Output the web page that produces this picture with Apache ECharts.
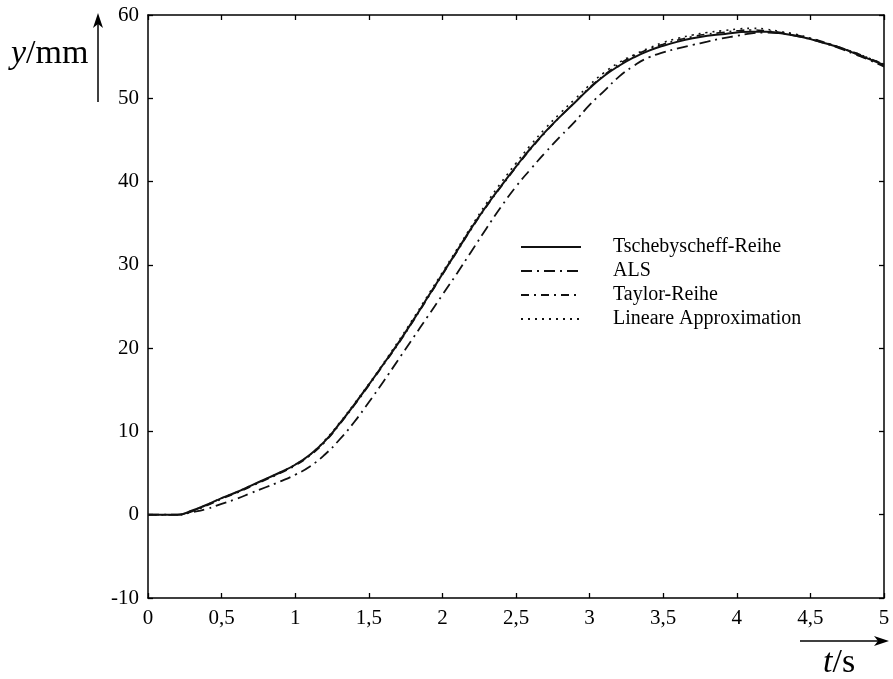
<!DOCTYPE html>
<html>
<head>
<meta charset="utf-8">
<script src="https://cdn.jsdelivr.net/npm/echarts@6/dist/echarts.min.js"></script>
<style>html,body{margin:0;padding:0;background:#fff}#c{width:893px;height:679px}</style>
</head>
<body>
<div id="c"></div>
<script>
const tValues = [0,0.1,0.2,0.3,0.4,0.5,0.6,0.7,0.8,0.9,1.0,1.1,1.2,1.3,1.4,1.5,1.6,1.7,1.8,1.9,2.0,2.1,2.2,2.3,2.4,2.5,2.6,2.7,2.8,2.9,3.0,3.1,3.2,3.3,3.4,3.5,3.6,3.7,3.8,3.9,4.0,4.1,4.2,4.3,4.4,4.5,4.6,4.7,4.8,4.9,5.0];
const tschebyscheff = [0,0,0,0.5,1.2,2.0,2.7,3.5,4.3,5.1,6.0,7.2,8.8,10.9,13.2,15.6,18.1,20.6,23.3,26.1,28.9,31.7,34.5,37.1,39.5,41.8,44.0,46.0,47.8,49.5,51.2,52.7,53.9,54.9,55.7,56.3,56.8,57.2,57.5,57.7,57.9,58.0,58.0,57.8,57.5,57.1,56.6,56.1,55.4,54.7,54.0];
const als = [0,0,0,0.3,0.7,1.3,1.9,2.6,3.3,4.0,4.8,5.8,7.2,9.0,11.1,13.5,16.0,18.6,21.2,23.8,26.4,29.0,31.7,34.4,37.0,39.4,41.5,43.5,45.4,47.2,49.2,50.9,52.6,53.9,54.9,55.5,56.0,56.4,56.8,57.2,57.5,57.8,57.9,57.8,57.5,57.1,56.6,56.0,55.3,54.6,53.8];
const taylor = [0,0,0,0.4,1.1,1.9,2.6,3.4,4.2,5.0,5.9,7.1,8.7,10.8,13.1,15.5,18.0,20.5,23.2,26.0,28.8,31.6,34.4,37.0,39.4,41.7,43.9,45.9,47.8,49.5,51.3,52.8,54.1,55.1,55.9,56.5,57.0,57.4,57.7,57.9,58.1,58.2,58.1,57.9,57.6,57.2,56.7,56.1,55.5,54.8,54.1];
const lineare = [0,0,0,0.5,1.2,2.0,2.7,3.5,4.3,5.1,6.0,7.2,8.9,11.0,13.3,15.7,18.2,20.8,23.5,26.3,29.1,31.9,34.7,37.4,39.9,42.2,44.4,46.4,48.2,49.9,51.6,53.1,54.3,55.2,56.0,56.7,57.2,57.6,57.9,58.1,58.3,58.4,58.3,58.0,57.7,57.2,56.7,56.1,55.5,54.8,54.1];
const seriesNames = ['Tschebyscheff-Reihe','ALS','Taylor-Reihe','Lineare Approximation'];
const xTicks = {min:0, max:5, interval:0.5};
const yTicks = {min:-10, max:60, interval:10};

const pair = arr => tValues.map((t,i)=>[t,arr[i]]);
const font = '"Liberation Serif", "DejaVu Serif", serif';
const chart = echarts.init(document.getElementById('c'), null, {renderer:'canvas'});
const axisCommon = () => ({
  axisLine:{show:true,onZero:false,lineStyle:{color:'#000',width:1.5}},
  axisTick:{show:true,inside:true,length:5,lineStyle:{color:'#000',width:1.3}},
  splitLine:{show:false}
});
chart.setOption({
  animation:false,
  backgroundColor:'#fff',
  color:['#111','#111','#111','#111'],
  grid:{left:148,right:9,top:15,bottom:81,show:false},
  xAxis:[
    Object.assign({type:'value',position:'bottom',min:xTicks.min,max:xTicks.max,interval:xTicks.interval,
      axisLabel:{color:'#000',fontFamily:font,fontSize:21,margin:10,formatter:v=>String(v).replace('.',',')}},axisCommon()),
    Object.assign({type:'value',position:'top',min:xTicks.min,max:xTicks.max,interval:xTicks.interval,axisLabel:{show:false}},axisCommon())
  ],
  yAxis:[
    Object.assign({type:'value',position:'left',min:yTicks.min,max:yTicks.max,interval:yTicks.interval,
      axisLabel:{color:'#000',fontFamily:font,fontSize:21,margin:9}},axisCommon()),
    Object.assign({type:'value',position:'right',min:yTicks.min,max:yTicks.max,interval:yTicks.interval,axisLabel:{show:false}},axisCommon())
  ],
  legend:{
    orient:'vertical',left:515,top:232,itemWidth:60,itemHeight:14,itemGap:4,
    data:seriesNames,
    itemStyle:{opacity:0},
    textStyle:{color:'#000',fontFamily:font,fontSize:20,lineHeight:20,padding:[0,0,0,27]}
  },
  series:[
    {name:seriesNames[0],type:'line',data:pair(tschebyscheff),symbol:'none',smooth:true,z:5,
      lineStyle:{color:'#111',width:2,type:'solid'}},
    {name:seriesNames[1],type:'line',data:pair(als),symbol:'none',smooth:true,
      lineStyle:{color:'#111',width:1.8,type:[11,5,2,5]}},
    {name:seriesNames[2],type:'line',data:pair(taylor),symbol:'none',smooth:true,
      lineStyle:{color:'#111',width:1.6,type:[8,5,2,5]}},
    {name:seriesNames[3],type:'line',data:pair(lineare),symbol:'none',smooth:true,
      lineStyle:{color:'#111',width:1.6,type:[2,5]}}
  ],
  graphic:[
    {type:'line',shape:{x1:98,y1:102,x2:98,y2:22},style:{stroke:'#000',lineWidth:1.5}},
    {type:'polygon',shape:{points:[[98,13],[93,28],[98,24],[103,28]]},style:{fill:'#000'}},
    {type:'text',left:11,top:37,style:{text:'{i|y}{n|/mm}',rich:{
      i:{fontFamily:font,fontStyle:'italic',fontSize:34,fill:'#000'},
      n:{fontFamily:font,fontSize:34,fill:'#000'}}}},
    {type:'line',shape:{x1:800,y1:641,x2:880,y2:641},style:{stroke:'#000',lineWidth:1.5}},
    {type:'polygon',shape:{points:[[889,641],[874,636],[878,641],[874,646]]},style:{fill:'#000'}},
    {type:'text',left:823,top:646,style:{text:'{i|t}{n|/s}',rich:{
      i:{fontFamily:font,fontStyle:'italic',fontSize:34,fill:'#000'},
      n:{fontFamily:font,fontSize:34,fill:'#000'}}}}
  ]
});
</script>
</body>
</html>
